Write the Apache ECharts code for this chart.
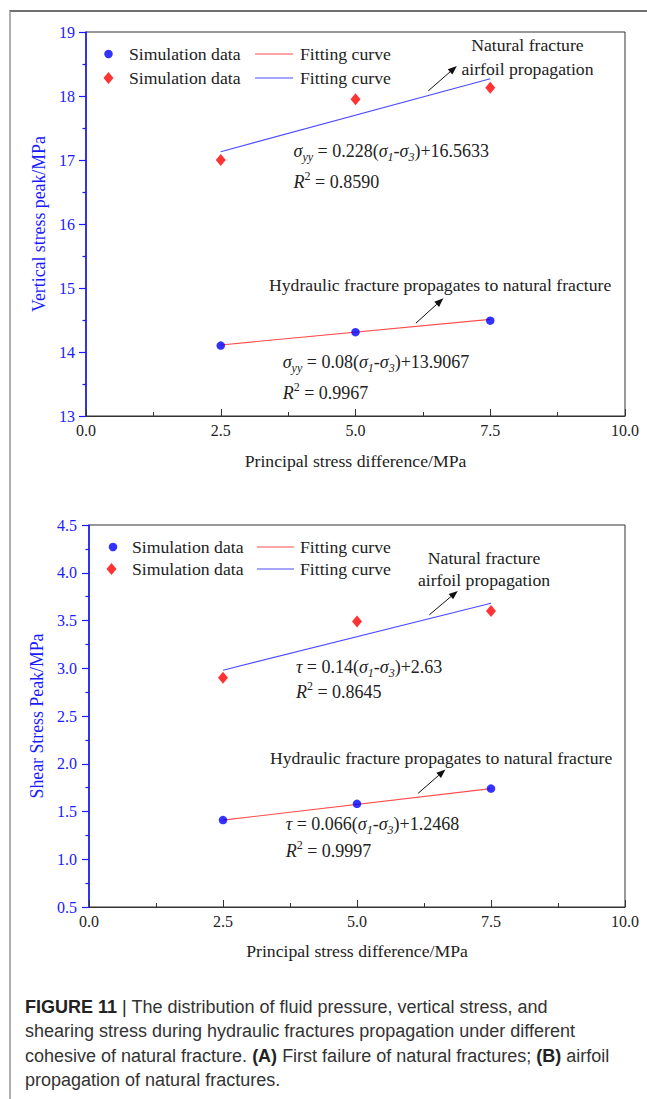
<!DOCTYPE html>
<html><head><meta charset="utf-8">
<script src="https://cdn.jsdelivr.net/npm/echarts@6/dist/echarts.min.js"></script>
<style>
html,body{margin:0;padding:0;background:#fff;width:647px;height:1099px;overflow:hidden;}
#frame{position:absolute;left:9px;top:10px;width:638px;height:1089px;border-left:2px solid #b0b0b0;border-top:2px solid #707070;box-sizing:border-box;}
#chart{position:absolute;left:0;top:0;width:647px;height:1099px;}
#caption{position:absolute;left:25px;top:995px;font-family:"Liberation Sans",Arial,sans-serif;font-size:18px;line-height:24.3px;color:#333;white-space:nowrap;}
#caption b{color:#222;}
#caption .bar{color:#222;}
</style></head>
<body>
<div id="frame"></div>
<div id="chart"></div>
<div id="caption"><b>FIGURE 11</b> <span class="bar">|</span> The distribution of fluid pressure, vertical stress, and<br>shearing stress during hydraulic fractures propagation under different<br>cohesive of natural fracture. <b>(A)</b> First failure of natural fractures; <b>(B)</b> airfoil<br>propagation of natural fractures.</div>
<script>
// ---------- data ----------
const xValues = [2.5, 5.0, 7.5];
// Panel A: vertical stress peak (MPa)
const vsHydraulic = [14.10, 14.31, 14.49];   // blue circles
const vsAirfoil   = [17.00, 17.95, 18.13];   // red diamonds
const fitX = [2.5, 7.5];
const vsHydraulicFit = [14.11, 14.51];       // red fitting line
const vsAirfoilFit   = [17.13, 18.27];       // blue fitting line
// Panel B: shear stress peak (MPa)
const ssHydraulic = [1.41, 1.58, 1.74];
const ssAirfoil   = [2.90, 3.49, 3.60];
const ssHydraulicFit = [1.41, 1.74];
const ssAirfoilFit   = [2.98, 3.68];

const legendLabels = {sim: 'Simulation data', fit: 'Fitting curve'};
const xName = 'Principal stress difference/MPa';
const yNames = ['Vertical stress peak/MPa', 'Shear Stress Peak/MPa'];

// ---------- styling ----------
const serif = '"Liberation Serif","Times New Roman",Times,serif';
const FS = 17.7;
const BLUE_AX = '#1a1aff';
const INK = '#222';
const C_BLUE_PT = '#0000ff', C_RED_PT = '#ff0000';
const C_RED_LN = '#ff4d4d', C_BLUE_LN = '#4d4dff';

const pair = (xs, ys) => xs.map((x, i) => [x, ys[i]]);

function xAxis(gi, nameGap) {
  return {
    type: 'value', gridIndex: gi, min: 0, max: 10, interval: 2.5,
    name: xName, nameLocation: 'middle', nameGap,
    nameTextStyle: {fontFamily: serif, fontSize: FS, color: INK},
    axisLine: {show: true, onZero: false, lineStyle: {color: '#333', width: 1}},
    axisTick: {show: true, inside: true, length: 7, lineStyle: {color: '#333'}},
    minorTick: {show: true, splitNumber: 2, length: 4, lineStyle: {color: '#333'}},
    axisLabel: {formatter: v => v.toFixed(1), fontFamily: serif, fontSize: 16, color: INK, margin: 6},
    splitLine: {show: false}
  };
}
function yAxis(gi, min, max, interval, fmt, nameGap, margin) {
  return {
    type: 'value', gridIndex: gi, min, max, interval,
    name: yNames[gi], nameLocation: 'middle', nameGap,
    nameTextStyle: {fontFamily: serif, fontSize: 17.8, color: BLUE_AX},
    axisLine: {show: true, onZero: false, lineStyle: {color: BLUE_AX, width: 1.6}},
    axisTick: {show: true, inside: false, length: 7, lineStyle: {color: BLUE_AX, width: 1.2}},
    minorTick: {show: true, splitNumber: 2, length: 3.5, lineStyle: {color: BLUE_AX, width: 1.2}},
    axisLabel: {formatter: fmt, fontFamily: serif, fontSize: 16, color: BLUE_AX, margin},
    splitLine: {show: false}
  };
}
function seriesFor(gi, hyd, air, hydFit, airFit) {
  const s = `_${gi}`;
  return [
    {name: 'fitR' + s, type: 'line', xAxisIndex: gi, yAxisIndex: gi, data: pair(fitX, hydFit),
     symbol: 'none', showSymbol: false, lineStyle: {color: C_RED_LN, width: 1.1}, itemStyle: {color: C_RED_LN}, z: 2},
    {name: 'fitB' + s, type: 'line', xAxisIndex: gi, yAxisIndex: gi, data: pair(fitX, airFit),
     symbol: 'none', showSymbol: false, lineStyle: {color: C_BLUE_LN, width: 1.1}, itemStyle: {color: C_BLUE_LN}, z: 2},
    {name: 'simB' + s, type: 'scatter', xAxisIndex: gi, yAxisIndex: gi, data: pair(xValues, hyd),
     symbol: 'circle', symbolSize: 8.5, itemStyle: {color: C_BLUE_PT}, z: 3},
    {name: 'simR' + s, type: 'scatter', xAxisIndex: gi, yAxisIndex: gi, data: pair(xValues, air),
     symbol: 'diamond', symbolSize: [10, 12], itemStyle: {color: C_RED_PT}, z: 3}
  ];
}
function legendSym(name, cx, cy, w, h, textX) {
  // symbol centred on cx, text starting at textX
  const left = cx - w / 2;
  return {
    data: [name], left, top: cy - 10, itemWidth: w, itemHeight: h, padding: 0, selectedMode: false,
    formatter: n => legendLabels[n.slice(0, 3)],
    textStyle: {fontFamily: serif, fontSize: FS, color: INK, lineHeight: 20, padding: [0, 0, 0, textX - (left + w + 5)]}
  };
}
function legendLine(name, x0, x1, cy, textX) {
  const w = x1 - x0;
  return {
    data: [{name, icon: 'rect'}], left: x0, top: cy - 10, itemWidth: w, itemHeight: 1.2, padding: 0, selectedMode: false,
    formatter: n => legendLabels[n.slice(0, 3)],
    textStyle: {fontFamily: serif, fontSize: FS, color: INK, lineHeight: 20, padding: [0, 0, 0, Math.max(0, textX - (x1 + 5))]}
  };
}

const chart = echarts.init(document.getElementById('chart'), null, {renderer: 'svg'});
chart.setOption({
  animation: false,
  backgroundColor: 'transparent',
  grid: [
    {left: 86, top: 32, width: 539, height: 384, show: true, borderColor: '#333', borderWidth: 1, backgroundColor: 'transparent'},
    {left: 89, top: 525, width: 536, height: 382, show: true, borderColor: '#333', borderWidth: 1, backgroundColor: 'transparent'}
  ],
  xAxis: [xAxis(0, 36), xAxis(1, 35)],
  yAxis: [
    yAxis(0, 13, 19, 1, v => String(v), 36, 11),
    yAxis(1, 0.5, 4.5, 0.5, v => v.toFixed(1), 39, 12)
  ],
  legend: [
    legendSym('simB_0', 108.5, 54, 8.5, 8.5, 129),
    legendLine('fitR_0', 255, 293, 54, 300),
    legendSym('simR_0', 108.5, 78, 10, 12, 129),
    legendLine('fitB_0', 255, 293, 78, 300),
    legendSym('simB_1', 113, 547, 8.5, 8.5, 132),
    legendLine('fitR_1', 257, 294, 547, 300),
    legendSym('simR_1', 111.5, 569, 10, 12, 132),
    legendLine('fitB_1', 257, 294, 569, 300)
  ],
  series: [
    ...seriesFor(0, vsHydraulic, vsAirfoil, vsHydraulicFit, vsAirfoilFit),
    ...seriesFor(1, ssHydraulic, ssAirfoil, ssHydraulicFit, ssAirfoilFit)
  ]
});

// ---------- annotations (anchored in data coordinates) ----------
const rich = {
  n: {fontFamily: serif, fontSize: 18, lineHeight: 24, fill: INK},
  i: {fontFamily: serif, fontSize: 18, fontStyle: 'italic', lineHeight: 24, fill: INK},
  sub: {fontFamily: serif, fontSize: 12, fontStyle: 'italic', lineHeight: 12, verticalAlign: 'bottom', fill: INK},
  sup: {fontFamily: serif, fontSize: 12, lineHeight: 12, verticalAlign: 'top', fill: INK}
};
const sig = sub => `{i|σ}{sub|${sub}}`;
const annotations = [
  {g: 0, kind: 'text', at: [8.19, 18.61], align: 'center', lh: 24, text: 'Natural fracture\nairfoil propagation'},
  {g: 0, kind: 'arrow', from: [6.35, 18.08], to: [6.88, 18.47]},
  {g: 0, kind: 'rich', at: [3.85, 17.14], text: `${sig('yy')}{n| = 0.228(}${sig('1')}{n|-}${sig('3')}{n|)+16.5633}`},
  {g: 0, kind: 'rich', at: [3.85, 16.66], text: '{i|R}{sup|2}{n| = 0.8590}'},
  {g: 0, kind: 'text', at: [6.57, 15.05], align: 'center', lh: 20, text: 'Hydraulic fracture propagates to natural fracture'},
  {g: 0, kind: 'arrow', from: [6.12, 14.45], to: [6.63, 14.84]},
  {g: 0, kind: 'rich', at: [3.65, 13.84], text: `${sig('yy')}{n| = 0.08(}${sig('1')}{n|-}${sig('3')}{n|)+13.9067}`},
  {g: 0, kind: 'rich', at: [3.65, 13.36], text: '{i|R}{sup|2}{n| = 0.9967}'},

  {g: 1, kind: 'text', at: [7.37, 4.04], align: 'center', lh: 22, text: 'Natural fracture\nairfoil propagation'},
  {g: 1, kind: 'arrow', from: [6.35, 3.56], to: [6.88, 3.81]},
  {g: 1, kind: 'rich', at: [3.86, 3.01], text: `{i|τ}{n| = 0.14(}${sig('1')}{n|-}${sig('3')}{n|)+2.63}`},
  {g: 1, kind: 'rich', at: [3.86, 2.75], text: '{i|R}{sup|2}{n| = 0.8645}'},
  {g: 1, kind: 'text', at: [6.57, 2.06], align: 'center', lh: 20, text: 'Hydraulic fracture propagates to natural fracture'},
  {g: 1, kind: 'arrow', from: [6.14, 1.69], to: [6.65, 1.94]},
  {g: 1, kind: 'rich', at: [3.67, 1.37], text: `{i|τ}{n| = 0.066(}${sig('1')}{n|-}${sig('3')}{n|)+1.2468}`},
  {g: 1, kind: 'rich', at: [3.67, 1.09], text: '{i|R}{sup|2}{n| = 0.9997}'}
];

const graphics = [];
annotations.forEach(a => {
  if (a.kind === 'arrow') {
    const p0 = chart.convertToPixel({gridIndex: a.g}, a.from);
    const p1 = chart.convertToPixel({gridIndex: a.g}, a.to);
    const dx = p1[0] - p0[0], dy = p1[1] - p0[1];
    const L = Math.hypot(dx, dy), ux = dx / L, uy = dy / L;
    const hl = 9, hw = 3.5;
    const bx = p1[0] - ux * hl, by = p1[1] - uy * hl;
    graphics.push({type: 'line', shape: {x1: p0[0], y1: p0[1], x2: bx, y2: by}, style: {stroke: '#111', lineWidth: 1}, z: 10});
    graphics.push({type: 'polygon', shape: {points: [[p1[0], p1[1]], [bx - uy * hw, by + ux * hw], [bx + uy * hw, by - ux * hw]]}, style: {fill: '#111'}, z: 10});
  } else {
    const p = chart.convertToPixel({gridIndex: a.g}, a.at);
    const style = a.kind === 'rich'
      ? {text: a.text, rich, x: p[0], y: p[1], align: 'left', verticalAlign: 'middle', textAlign: 'left', textVerticalAlign: 'middle', fill: INK}
      : {text: a.text, x: p[0], y: p[1], align: a.align, verticalAlign: 'middle', textAlign: a.align, textVerticalAlign: 'middle',
         font: `${FS}px ${serif}`, fontFamily: serif, fontSize: FS, lineHeight: a.lh, fill: INK};
    graphics.push({type: 'text', style, z: 10});
  }
});
chart.setOption({graphic: graphics});
</script>
</body></html>
